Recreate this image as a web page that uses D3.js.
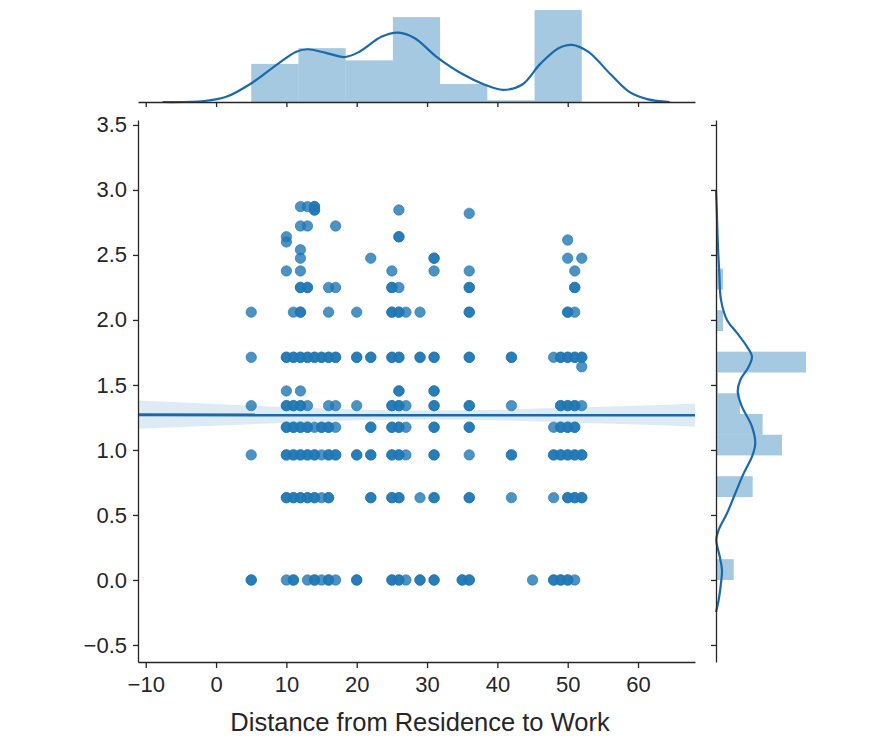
<!DOCTYPE html>
<html>
<head>
<meta charset="utf-8">
<script src="https://cdn.jsdelivr.net/npm/d3@7"></script>
<style>
  html, body { margin: 0; padding: 0; background: #fff; }
  svg { display: block; font-family: "Liberation Sans", Arial, sans-serif; }
</style>
</head>
<body>
<div id="chart"></div>
<script>
// values

// absenteeism levels (y) and the distances (x) that sit on each level.
// a distance written twice is a spot where several points overlap (darker).
const rowValue = [0, 0.633, 0.962, 1.175, 1.341, 1.454, 1.64, 1.713, 2.06, 2.25,
  2.377, 2.475, 2.54, 2.60, 2.615, 2.64, 2.723, 2.82, 2.846, 2.872];
const rowDistances = [
  [5, 5, 10, 11, 11, 13, 14, 14, 15, 16, 16, 17, 20, 20, 25, 25, 26, 26, 27, 29, 29, 31, 31, 35, 35, 36, 36, 45, 48, 48, 49, 49, 50, 50, 51],
  [10, 10, 11, 11, 12, 12, 13, 13, 14, 14, 15, 16, 16, 22, 22, 25, 25, 26, 26, 29, 31, 31, 36, 36, 42, 48, 50, 50, 51, 51, 52, 52],
  [5, 10, 10, 11, 11, 12, 12, 13, 13, 14, 14, 15, 16, 16, 17, 17, 20, 20, 22, 22, 25, 25, 26, 26, 27, 31, 31, 36, 42, 42, 48, 48, 49, 49, 50, 50, 51, 51, 52, 52],
  [10, 10, 11, 11, 12, 12, 13, 13, 14, 15, 15, 16, 16, 17, 22, 22, 25, 25, 26, 26, 27, 31, 31, 36, 36, 48, 49, 49, 50, 50, 51, 51],
  [5, 10, 10, 11, 11, 12, 12, 13, 16, 17, 20, 25, 25, 26, 26, 27, 31, 31, 36, 36, 42, 49, 49, 50, 50, 51, 51, 52],
  [10, 12, 26, 26, 31, 31],
  [52],
  [5, 10, 10, 11, 11, 12, 12, 13, 13, 14, 14, 15, 15, 16, 16, 17, 17, 20, 20, 22, 22, 25, 25, 26, 26, 29, 29, 31, 31, 36, 36, 42, 42, 48, 49, 49, 50, 50, 51, 51, 52, 52],
  [5, 11, 12, 12, 16, 20, 25, 25, 26, 26, 27, 29, 36, 36, 50, 50, 51],
  [12, 12, 13, 13, 16, 17, 25, 25, 26, 36, 36, 51, 51],
  [10, 12, 25, 31, 36, 51],
  [12, 22, 31, 31, 50, 52],
  [12],
  [10],
  [50],
  [10, 26, 26],
  [12, 13, 17],
  [36],
  [14, 14, 26],
  [12, 13, 14, 14]
];

// regression fit and its confidence band
const regAt = [-11.1, 68.1];
const regFit = [1.270, 1.268];
const bandAt = [-11.1, 0, 10, 20, 30, 40, 50, 60, 68.1];
const bandLow = [1.163, 1.187, 1.21, 1.228, 1.234, 1.228, 1.212, 1.195, 1.178];
const bandHigh = [1.38, 1.353, 1.33, 1.312, 1.304, 1.31, 1.324, 1.34, 1.358];

// top marginal: histogram of distance + kde
const histXEdges = [5, 11.714, 18.429, 25.143, 31.857, 38.571, 45.286, 52];
const histXDensity = [0.0172, 0.0243, 0.0188, 0.0383, 0.0081, 0.0008, 0.0415];
const kdeXAt = [-7.6, -1.7, 1.45, 5.1, 8.8, 11.4, 13.0, 15.6, 18.3, 20.4, 23.5, 25.9, 28.2,
  31.4, 35.1, 38.2, 40.8, 43.5, 46.1, 48.7, 50.6, 52.9, 56.1, 58.7, 61.3, 64.5];
const kdeXDensity = [0, 0.00045, 0.00234, 0.0086, 0.0172, 0.0227, 0.0238, 0.0222, 0.0203, 0.0227,
  0.0294, 0.0313, 0.0289, 0.0203, 0.0125, 0.0078, 0.0055, 0.0078, 0.0172, 0.0243, 0.0258,
  0.0227, 0.0125, 0.0047, 0.0013, 0];

// right marginal: histogram of absenteeism + kde
const histYEdges = [0, 0.160, 0.319, 0.479, 0.638, 0.798, 0.958, 1.117, 1.277, 1.436,
  1.596, 1.756, 1.915, 2.075, 2.234, 2.394, 2.553, 2.713, 2.872];
const histYDensity = [0.376, 0, 0, 0, 0.779, 0, 1.401, 0.991, 0.51, 0.04,
  1.911, 0, 0.149, 0, 0.149, 0.03, 0.03, 0.04];
const kdeYAt = [3.0, 2.84, 2.615, 2.36, 2.154, 2.0, 1.90, 1.795, 1.718, 1.64, 1.538, 1.448,
  1.333, 1.18, 1.05, 0.948, 0.82, 0.667, 0.513, 0.385, 0.308, 0.18, 0.077, -0.025, -0.154, -0.246];
const kdeYDensity = [0, 0.017, 0.036, 0.07, 0.106, 0.234, 0.446, 0.658, 0.764, 0.694, 0.516, 0.461,
  0.552, 0.764, 0.834, 0.764, 0.588, 0.41, 0.234, 0.057, 0.006, 0.079, 0.127, 0.106, 0.057, 0];

const xTicks = [-10, 0, 10, 20, 30, 40, 50, 60];
const yTicks = [-0.5, 0, 0.5, 1.0, 1.5, 2.0, 2.5, 3.0, 3.5];
const xLabel = "Distance from Residence to Work";

const width = 882, height = 749;
const blue = "#1f77b4";
const ink = "#262626";

const svg = d3.select("#chart").append("svg")
  .attr("width", width)
  .attr("height", height);

// scales
const x = d3.scaleLinear().domain([-11.1, 68.1]).range([138, 695]);
const y = d3.scaleLinear().domain([-0.631, 3.538]).range([662, 120]);
const topY = d3.scaleLinear().domain([0, 0.0436]).range([102, 5.4]);
const rightX = d3.scaleLinear().domain([0, 2.007]).range([716, 810.5]);

// ---- scatter
const points = [];
rowValue.forEach((v, i) => rowDistances[i].forEach(d => points.push({ d: d, v: v })));

svg.append("g").selectAll("circle")
  .data(points)
  .enter().append("circle")
  .attr("cx", p => x(p.d))
  .attr("cy", p => y(p.v))
  .attr("r", 5.2)
  .attr("fill", blue)
  .attr("fill-opacity", 0.8)
  .attr("stroke", blue)
  .attr("stroke-opacity", 0.8)
  .attr("stroke-width", 0.8);

// ---- regression band + line
const band = bandAt.map((d, i) => ({ d: d, lo: bandLow[i], hi: bandHigh[i] }));
svg.append("path")
  .datum(band)
  .attr("fill", blue)
  .attr("fill-opacity", 0.15)
  .attr("d", d3.area().curve(d3.curveMonotoneX)
    .x(b => x(b.d)).y0(b => y(b.lo)).y1(b => y(b.hi)));

svg.append("path")
  .datum(regAt.map((d, i) => [d, regFit[i]]))
  .attr("fill", "none")
  .attr("stroke", "#1a6aab")
  .attr("stroke-width", 3)
  .attr("d", d3.line().x(p => x(p[0])).y(p => y(p[1])));

// ---- top marginal
svg.append("g").selectAll("rect")
  .data(histXDensity)
  .enter().append("rect")
  .attr("x", (h, i) => x(histXEdges[i]))
  .attr("width", (h, i) => x(histXEdges[i + 1]) - x(histXEdges[i]))
  .attr("y", h => topY(h))
  .attr("height", h => topY(0) - topY(h))
  .attr("fill", blue)
  .attr("fill-opacity", 0.4);

svg.append("path")
  .datum(kdeXAt.map((d, i) => [d, kdeXDensity[i]]))
  .attr("fill", "none")
  .attr("stroke", "#1a6aab")
  .attr("stroke-width", 2.2)
  .attr("d", d3.line().curve(d3.curveCatmullRom).x(p => x(p[0])).y(p => topY(p[1])));

// ---- right marginal
svg.append("g").selectAll("rect")
  .data(histYDensity)
  .enter().append("rect")
  .attr("x", rightX(0))
  .attr("width", h => rightX(h) - rightX(0))
  .attr("y", (h, i) => y(histYEdges[i + 1]))
  .attr("height", (h, i) => y(histYEdges[i]) - y(histYEdges[i + 1]))
  .attr("fill", blue)
  .attr("fill-opacity", 0.4);

svg.append("path")
  .datum(kdeYAt.map((v, i) => [kdeYDensity[i], v]))
  .attr("fill", "none")
  .attr("stroke", "#1a6aab")
  .attr("stroke-width", 2.2)
  .attr("d", d3.line().curve(d3.curveCatmullRom).x(p => rightX(p[0])).y(p => y(p[1])));

// ---- axes
const fmtY = d3.format(".1f");

function styleAxis(g, fontSize) {
  g.attr("font-family", null).attr("font-size", null);
  g.select(".domain").attr("stroke", ink).attr("stroke-width", 1.3);
  g.selectAll(".tick line").attr("stroke", ink).attr("stroke-width", 1.3);
  g.selectAll(".tick text").attr("fill", ink).style("font-size", fontSize + "px");
}

const xAxis = svg.append("g")
  .attr("transform", "translate(0,662)")
  .call(d3.axisBottom(x).tickValues(xTicks).tickSizeInner(6).tickSizeOuter(0).tickPadding(8));
styleAxis(xAxis, 22);

const yAxis = svg.append("g")
  .attr("transform", "translate(138,0)")
  .call(d3.axisLeft(y).tickValues(yTicks).tickFormat(fmtY).tickSizeInner(5).tickSizeOuter(0).tickPadding(6));
styleAxis(yAxis, 22);

// marginal axes carry ticks but no labels
const topAxis = svg.append("g")
  .attr("transform", "translate(0,102)")
  .call(d3.axisBottom(x).tickValues(xTicks).tickFormat("").tickSizeInner(5).tickSizeOuter(0));
styleAxis(topAxis, 10);

const rightAxis = svg.append("g")
  .attr("transform", "translate(716,0)")
  .call(d3.axisLeft(y).tickValues(yTicks).tickFormat("").tickSizeInner(5).tickSizeOuter(0));
styleAxis(rightAxis, 10);

svg.append("text")
  .attr("x", 420)
  .attr("y", 731)
  .attr("text-anchor", "middle")
  .attr("fill", ink)
  .style("font-size", "25.5px")
  .text(xLabel);
</script>
</body>
</html>
